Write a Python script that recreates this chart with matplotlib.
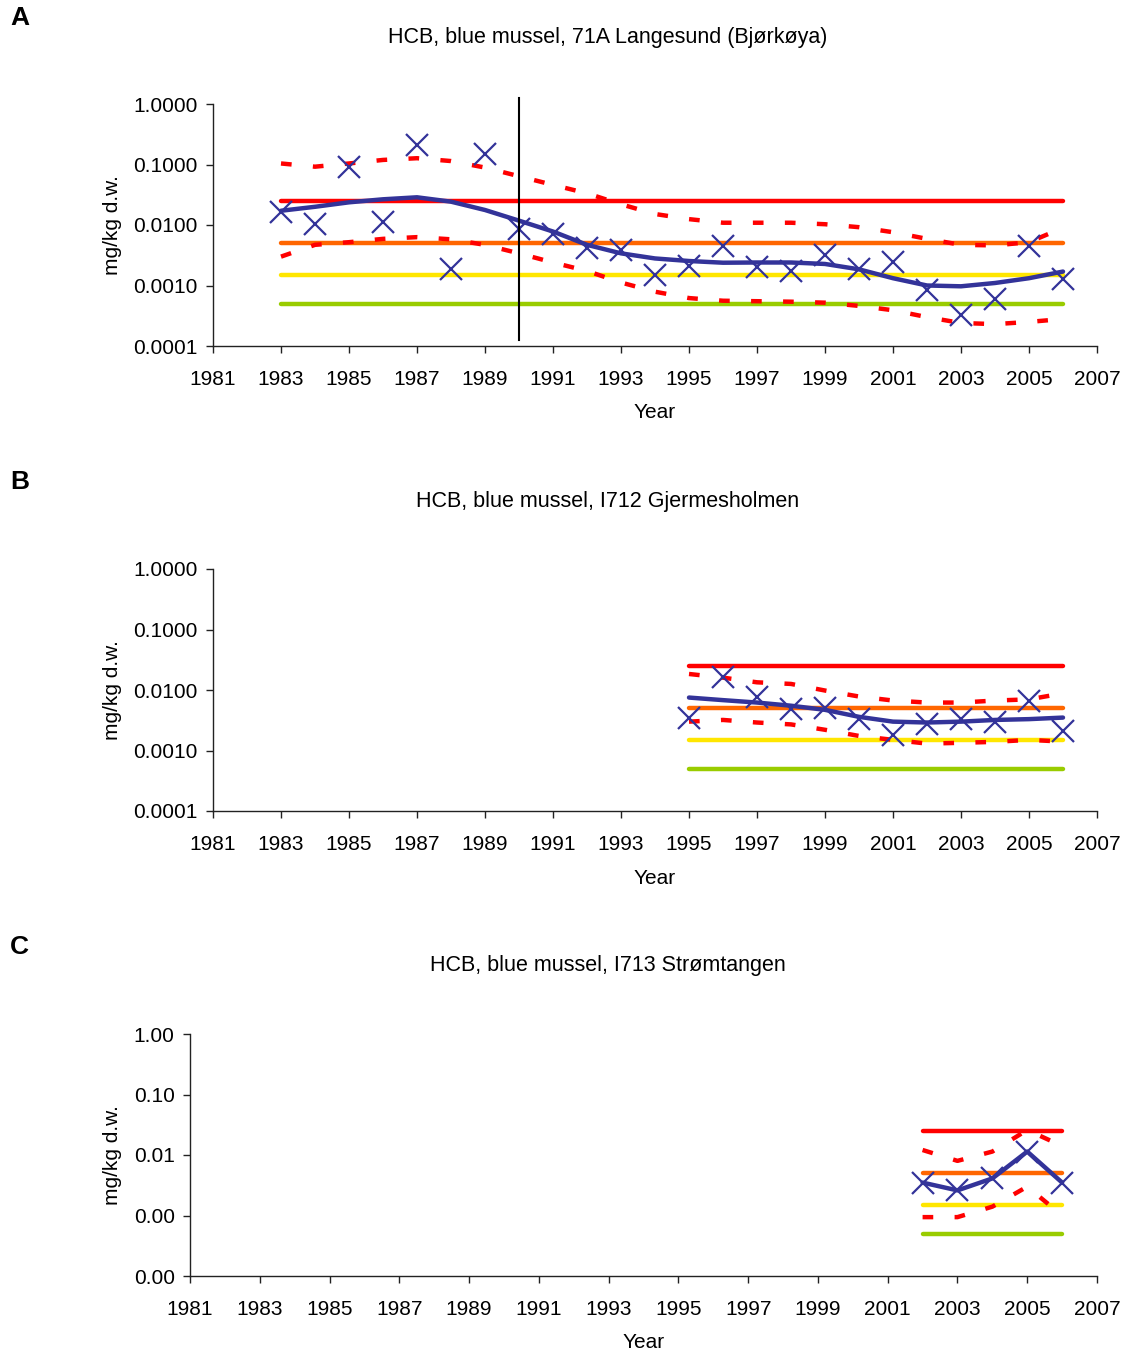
import matplotlib
matplotlib.use("Agg")
import matplotlib.pyplot as plt
from matplotlib.ticker import FixedLocator, FuncFormatter

plt.rcParams['font.family'] = ['Liberation Sans', 'DejaVu Sans']

# ---------------- Panel A: 71A Langesund (Bjørkøya) ----------------
years_a = list(range(1983, 2007))
obs_a = [0.0166, 0.0104, 0.092, 0.0113, 0.21, 0.00185, 0.149, 0.0085, 0.0071, 0.0041,
         0.0039, 0.00149, 0.0021, 0.0045, 0.00205, 0.00174, 0.0032, 0.00185, 0.0024,
         0.00084, 0.000325, 0.00059, 0.0045, 0.00127]
smooth_a = [0.0172, 0.020, 0.0237, 0.0266, 0.0287, 0.0243, 0.0177, 0.0118, 0.0078, 0.0047,
            0.0034, 0.0028, 0.00254, 0.00238, 0.0024, 0.0024, 0.00227, 0.00185, 0.00132,
            0.0010, 0.00097, 0.0011, 0.00132, 0.0017]
upper_a = [0.104, 0.092, 0.104, 0.119, 0.127, 0.114, 0.089, 0.064, 0.046, 0.0334,
           0.022, 0.0152, 0.0125, 0.0109, 0.0109, 0.0109, 0.0103, 0.0092, 0.0076,
           0.0059, 0.0047, 0.0046, 0.0052, 0.009]
lower_a = [0.0030, 0.0047, 0.0052, 0.0059, 0.0063, 0.0058, 0.0047, 0.0034, 0.0024, 0.00174,
           0.00112, 0.00079, 0.00062, 0.00056, 0.00055, 0.00054, 0.00052, 0.00046, 0.00039,
           0.00030, 0.00024, 0.00023, 0.00025, 0.00028]
trend_break_a = 1990

# ---------------- Panel B: I712 Gjermesholmen ----------------
years_b = list(range(1995, 2007))
obs_b = [0.0034, 0.0166, 0.0078, 0.0048, 0.0050, 0.0033, 0.0018, 0.0027, 0.0033, 0.0030, 0.0067, 0.0021]
smooth_b = [0.0075, 0.0068, 0.0062, 0.0055, 0.0047, 0.0036, 0.0030, 0.0029, 0.0030, 0.0032, 0.0033, 0.0035]
upper_b = [0.0184, 0.016, 0.0134, 0.0126, 0.0098, 0.0078, 0.0067, 0.0062, 0.0062, 0.0067, 0.0070, 0.0088]
lower_b = [0.0030, 0.0032, 0.0029, 0.0027, 0.0022, 0.00174, 0.0015, 0.0013, 0.00134, 0.00139, 0.0015, 0.0014]

# ---------------- Panel C: I713 Strømtangen ----------------
years_c = list(range(2002, 2007))
obs_c = [0.0035, 0.0026, 0.0041, 0.0114, 0.0035]
smooth_c = [0.0035, 0.0026, 0.0041, 0.0114, 0.0035]
upper_c = [0.0121, 0.0080, 0.0114, 0.0259, 0.0141]
lower_c = [0.00094, 0.00094, 0.0014, 0.0030, 0.0010]

# Classification limits (mg/kg d.w.)
class_limits = [0.025, 0.005, 0.0015, 0.0005]
class_colors = ['#FF0000', '#FF6600', '#FFE600', '#99CC00']

titles = ["HCB, blue mussel, 71A Langesund (Bjørkøya)",
          "HCB, blue mussel, I712 Gjermesholmen",
          "HCB, blue mussel, I713 Strømtangen"]
letters = ["A", "B", "C"]
xticks = list(range(1981, 2008, 2))
yticks = [0.0001, 0.001, 0.01, 0.1, 1.0]

W, H = 1125, 1355
fig = plt.figure(figsize=(W / 100, H / 100), dpi=100)

def fx(px):
    return px / W

def fy(py):
    return 1 - py / H

# axes boxes in pixel terms: left, right, top, bottom
boxes = [(213, 1097, 104, 346), (213, 1097, 569, 811), (190, 1097, 1034, 1276)]
title_y = [37, 501, 966]
letter_y = [18, 482, 947]
ylabel_x = [112, 112, 112]
xlabel_y = [413, 878, 1343]
fmts = ["{:.4f}", "{:.4f}", "{:.2f}"]

datasets = [
    (years_a, obs_a, smooth_a, upper_a, lower_a),
    (years_b, obs_b, smooth_b, upper_b, lower_b),
    (years_c, obs_c, smooth_c, upper_c, lower_c),
]

FS = 15
blue = '#333399'

for i, (l, r, t, b) in enumerate(boxes):
    ax = fig.add_axes([fx(l), fy(b), fx(r - l), (b - t) / H])
    yrs, obs, sm, up, lo = datasets[i]
    x0, x1 = yrs[0], yrs[-1]
    for val, col in zip(class_limits, class_colors):
        ax.plot([x0, x1], [val, val], color=col, lw=3.2, solid_capstyle='round', zorder=2)
    ax.plot(yrs, up, color='#FF0000', lw=3.2, dashes=(2.4, 4.8), zorder=3)
    ax.plot(yrs, lo, color='#FF0000', lw=3.2, dashes=(2.4, 4.8), zorder=3)
    ax.plot(yrs, sm, color=blue, lw=3.2, solid_capstyle='round', zorder=4)
    ax.plot(yrs, obs, linestyle='none', marker='x', ms=16, mew=1.6, color=blue, zorder=5)
    if i == 0:
        ax.plot([trend_break_a, trend_break_a], [1.26, 0.000126], color='black', lw=1.5,
                clip_on=False, zorder=6)

    ax.set_yscale('log')
    ax.set_ylim(0.0001, 1.0)
    ax.set_xlim(1981, 2007)
    ax.yaxis.set_major_locator(FixedLocator(yticks))
    ax.yaxis.set_minor_locator(FixedLocator([]))
    f = fmts[i]
    ax.yaxis.set_major_formatter(FuncFormatter(lambda v, p, f=f: f.format(v)))
    ax.set_xticks(xticks)
    ax.set_xticklabels([str(x) for x in xticks])
    for s in ['top', 'right']:
        ax.spines[s].set_visible(False)
    for s in ['left', 'bottom']:
        ax.spines[s].set_color('#222222')
        ax.spines[s].set_linewidth(1.0)
    ax.tick_params(axis='both', direction='out', length=5, width=1.0, color='#222222',
                   labelsize=FS, labelcolor='black', pad=6)
    ax.tick_params(axis='x', pad=12)

    fig.text(fx(608), fy(title_y[i]), titles[i], ha='center', va='center', fontsize=15.5)
    fig.text(fx(10), fy(letter_y[i]), letters[i], ha='left', va='center', fontsize=19,
             fontweight='bold')
    fig.text(fx(ylabel_x[i]), fy((t + b) / 2), "mg/kg d.w.", rotation=90, ha='center',
             va='center', fontsize=FS)
    fig.text(fx((l + r) / 2), fy(xlabel_y[i]), "Year", ha='center', va='center', fontsize=FS)

fig.savefig("out.png", dpi=100, facecolor='white')
